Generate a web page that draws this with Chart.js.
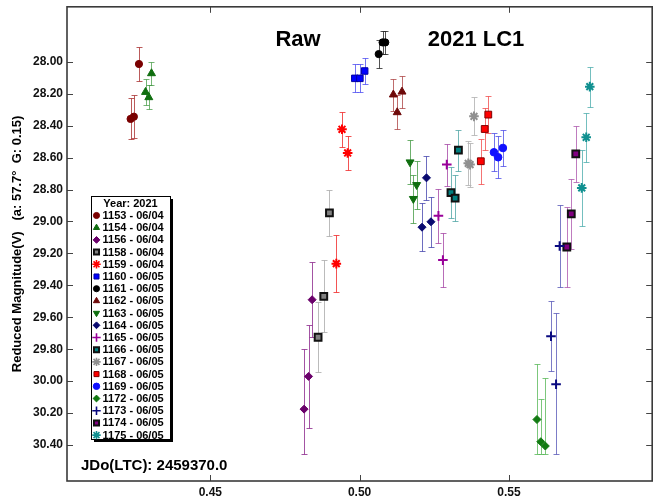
<!DOCTYPE html>
<html><head><meta charset="utf-8">
<script src="https://cdn.jsdelivr.net/npm/chart.js@4/dist/chart.umd.min.js"></script>
<style>html,body{margin:0;padding:0;background:#fff;}canvas{display:block;}</style>
</head><body>
<canvas id="c" width="659" height="497"></canvas>
<script>
// ---- data ----
const seriesLabels = ['1153 - 06/04','1154 - 06/04','1156 - 06/04','1158 - 06/04','1159 - 06/04',
  '1160 - 06/05','1161 - 06/05','1162 - 06/05','1163 - 06/05','1164 - 06/05','1165 - 06/05',
  '1166 - 06/05','1167 - 06/05','1168 - 06/05','1169 - 06/05','1172 - 06/05','1173 - 06/05',
  '1174 - 06/05','1175 - 06/05'];
const jdValues = [
  [0.4233,0.4244,0.4261],
  [0.4283,0.4294,0.4303],
  [0.4814,0.4829,0.4841],
  [0.4861,0.4880,0.4899],
  [0.4922,0.4941,0.4960],
  [0.4984,0.5001,0.5017],
  [0.5064,0.5077,0.5086],
  [0.5113,0.5126,0.5142],
  [0.5169,0.5180,0.5191],
  [0.5209,0.5224,0.5239],
  [0.5264,0.5279,0.5292],
  [0.5306,0.5320,0.5331],
  [0.5364,0.5370,0.5383],
  [0.5406,0.5419,0.5431],
  [0.5450,0.5464,0.5480],
  [0.5594,0.5607,0.5622],
  [0.5641,0.5658,0.5670],
  [0.5694,0.5709,0.5724],
  [0.5744,0.5759,0.5771]
];
const magValues = [
  [28.358,28.344,28.014],
  [28.190,28.223,28.073],
  [30.175,29.970,29.490],
  [29.725,29.469,28.946],
  [29.264,28.423,28.571],
  [28.104,28.104,28.058],
  [27.952,27.879,27.879],
  [28.206,28.317,28.188],
  [28.629,28.858,28.771],
  [29.036,28.727,29.002],
  [28.965,29.242,28.644],
  [28.819,28.854,28.554],
  [28.636,28.644,28.342],
  [28.623,28.421,28.331],
  [28.567,28.598,28.540],
  [30.240,30.379,30.406],
  [29.719,30.019,29.154],
  [29.160,28.952,28.577],
  [28.790,28.473,28.156]
];
const errValues = [
  [0.128,0.135,0.104],
  [0.083,0.076,0.073],
  [0.378,0.323,0.236],
  [0.219,0.225,0.143],
  [0.177,0.110,0.107],
  [0.088,0.088,0.083],
  [0.090,0.073,0.073],
  [0.100,0.106,0.100],
  [0.138,0.150,0.148],
  [0.151,0.136,0.155],
  [0.170,0.170,0.132],
  [0.158,0.145,0.128],
  [0.138,0.138,0.119],
  [0.140,0.133,0.118],
  [0.120,0.131,0.115],
  [0.350,0.265,0.427],
  [0.220,0.448,0.255],
  [0.252,0.219,0.174],
  [0.240,0.154,0.126]
];
const xTickValues = [0.45, 0.50, 0.55];
const yTickValues = [28.00,28.20,28.40,28.60,28.80,29.00,29.20,29.40,29.60,29.80,30.00,30.20,30.40];
const errClipMag = 30.456;
const legendTitle = 'Year: 2021';
const titleLeft = 'Raw';
const titleRight = '2021 LC1';
const jdNote = 'JDo(LTC): 2459370.0';
const yAxisTitle = 'Reduced Magnitude(V)   (a: 57.7\u00B0  G: 0.15)';

// ---- styles ----
const FONT = "'Liberation Sans', Arial, Helvetica, sans-serif";
const styles = [
  {shape:'circle',   fill:'#7a0000', stroke:'#7a0000', bw:1, r:3.6, err:'rgba(170,50,50,0.8)'},
  {shape:'triangle', fill:'#0f6e0f', stroke:'#0f6e0f', bw:1, r:4.6, err:'rgba(60,150,60,0.7)'},
  {shape:'rectRot',  fill:'#6a006a', stroke:'#6a006a', bw:1, r:4.0, err:'rgba(140,40,140,0.8)'},
  {shape:'rect',     fill:'#808080', stroke:'#111111', bw:2, r:4.8, err:'rgba(170,170,170,0.8)'},
  {shape:'star',     fill:'#ff0000', stroke:'#ff0000', bw:2, r:4.8, err:'rgba(240,40,40,0.8)'},
  {shape:'rect',     fill:'#0000ff', stroke:'#0000a0', bw:1, r:4.6, err:'rgba(70,70,240,0.75)'},
  {shape:'circle',   fill:'#000000', stroke:'#000000', bw:1, r:3.6, err:'rgba(40,40,40,0.8)'},
  {shape:'triangle', fill:'#6e0a0a', stroke:'#6e0a0a', bw:1, r:4.6, err:'rgba(170,60,60,0.75)'},
  {shape:'triangle', rot:180, fill:'#0f6e0f', stroke:'#0f6e0f', bw:1, r:4.6, err:'rgba(60,150,60,0.75)'},
  {shape:'rectRot',  fill:'#0a0a70', stroke:'#0a0a70', bw:1, r:4.0, err:'rgba(60,60,170,0.75)'},
  {shape:'cross',    fill:'#990099', stroke:'#990099', bw:2, r:4.8, err:'rgba(160,60,160,0.75)'},
  {shape:'rect',     fill:'#008080', stroke:'#111111', bw:2, r:4.8, err:'rgba(70,160,160,0.75)'},
  {shape:'star',     fill:'#909090', stroke:'#909090', bw:2, r:4.8, err:'rgba(180,180,180,0.85)'},
  {shape:'rect',     fill:'#ff0000', stroke:'#800000', bw:1, r:4.8, err:'rgba(240,70,70,0.75)'},
  {shape:'circle',   fill:'#1010ff', stroke:'#1010ff', bw:1, r:3.8, err:'rgba(70,70,230,0.75)'},
  {shape:'rectRot',  fill:'#127a12', stroke:'#127a12', bw:1, r:4.0, err:'rgba(80,180,80,0.75)'},
  {shape:'cross',    fill:'#0a0a80', stroke:'#0a0a80', bw:2, r:4.8, err:'rgba(80,80,180,0.75)'},
  {shape:'rect',     fill:'#800080', stroke:'#111111', bw:2, r:4.8, err:'rgba(170,80,170,0.75)'},
  {shape:'star',     fill:'#109090', stroke:'#109090', bw:2, r:4.8, err:'rgba(70,170,170,0.75)'}
];

const datasets = seriesLabels.map((lab, i) => ({
  label: lab,
  data: jdValues[i].map((x, k) => ({x: x, y: magValues[i][k], e: errValues[i][k]})),
  showLine: false,
  pointStyle: styles[i].shape,
  rotation: styles[i].rot || 0,
  pointRotation: styles[i].rot || 0,
  pointRadius: styles[i].r,
  pointHoverRadius: styles[i].r,
  backgroundColor: styles[i].fill,
  borderColor: styles[i].stroke,
  pointBorderWidth: styles[i].bw,
  borderWidth: styles[i].bw,
  errColor: styles[i].err
}));

const errorBars = {
  id: 'errorBars',
  beforeDatasetsDraw(chart) {
    const {ctx, chartArea: a, scales: {x, y}} = chart;
    ctx.save();
    ctx.beginPath(); ctx.rect(a.left, a.top, a.right - a.left, a.bottom - a.top); ctx.clip();
    chart.data.datasets.forEach(ds => {
      ctx.strokeStyle = ds.errColor; ctx.lineWidth = 1;
      ds.data.forEach(p => {
        const px = Math.round(x.getPixelForValue(p.x)) + 0.5;
        const y1 = Math.round(y.getPixelForValue(p.y - p.e)) + 0.5;
        const y2 = Math.round(y.getPixelForValue(Math.min(p.y + p.e, errClipMag))) + 0.5;
        ctx.beginPath();
        ctx.moveTo(px, y1); ctx.lineTo(px, y2);
        ctx.moveTo(px - 3, y1); ctx.lineTo(px + 3, y1);
        ctx.moveTo(px - 3, y2); ctx.lineTo(px + 3, y2);
        ctx.stroke();
      });
    });
    ctx.restore();
  }
};

const frameAndText = {
  id: 'frameAndText',
  afterDraw(chart) {
    const {ctx, chartArea: a, scales: {x, y}} = chart;
    ctx.save();
    // inward ticks
    ctx.strokeStyle = '#444'; ctx.lineWidth = 1;
    ctx.beginPath();
    xTickValues.forEach(v => {
      const px = Math.round(x.getPixelForValue(v)) + 0.5;
      ctx.moveTo(px, a.bottom); ctx.lineTo(px, a.bottom - 6);
      ctx.moveTo(px, a.top); ctx.lineTo(px, a.top + 6);
    });
    yTickValues.forEach(v => {
      const py = Math.round(y.getPixelForValue(v)) + 0.5;
      ctx.moveTo(a.left, py); ctx.lineTo(a.left + 6, py);
      ctx.moveTo(a.right, py); ctx.lineTo(a.right - 6, py);
    });
    ctx.stroke();
    // frame
    ctx.strokeStyle = '#3a3a3a'; ctx.lineWidth = 1.6;
    ctx.strokeRect(a.left, a.top, a.right - a.left, a.bottom - a.top);
    // titles
    ctx.fillStyle = '#000';
    ctx.textBaseline = 'middle'; ctx.textAlign = 'center';
    ctx.font = 'bold 22px ' + FONT;
    ctx.fillText(titleLeft, 298, 40);
    ctx.fillText(titleRight, 476, 40);
    ctx.textAlign = 'left';
    ctx.font = 'bold 15px ' + FONT;
    ctx.fillText(jdNote, 81, 466);

    // legend
    const bx = 91, by = 196, bw = 79, bh = 243;
    ctx.fillStyle = '#000';
    ctx.fillRect(bx + 3, by + 3, bw, bh);
    ctx.fillStyle = '#fff';
    ctx.fillRect(bx, by, bw, bh);
    ctx.strokeStyle = '#000'; ctx.lineWidth = 1;
    ctx.strokeRect(bx + 0.5, by + 0.5, bw, bh);
    ctx.fillStyle = '#000';
    ctx.font = 'bold 11px ' + FONT;
    ctx.textAlign = 'center';
    ctx.fillText(legendTitle, bx + bw / 2, by + 8);
    ctx.textAlign = 'left';
    chart.data.datasets.forEach((ds, i) => {
      const yy = by + 19.5 + i * 12.2;
      const isLine = ds.pointStyle === 'star' || ds.pointStyle === 'cross';
      ctx.fillStyle = ds.backgroundColor;
      ctx.strokeStyle = ds.borderColor;
      ctx.lineWidth = isLine ? 1.6 : Math.min(ds.borderWidth, 2);
      Chart.helpers.drawPoint(ctx, {pointStyle: ds.pointStyle, radius: isLine ? 4.2 : Math.min(ds.pointRadius, 4.2) * 0.85, rotation: ds.rotation, borderWidth: ctx.lineWidth}, 96.5, yy);
      ctx.fillStyle = '#000';
      ctx.fillText(ds.label, 102.5, yy + 0.5);
    });
    ctx.restore();
  }
};

new Chart(document.getElementById('c'), {
  type: 'scatter',
  data: {datasets: datasets},
  plugins: [errorBars, frameAndText],
  options: {
    responsive: false, animation: false, devicePixelRatio: 1,
    layout: {padding: {left: 0, right: 4, top: 6, bottom: 0}},
    plugins: {legend: {display: false}, tooltip: {enabled: false}},
    elements: {point: {hitRadius: 0}},
    scales: {
      x: {
        type: 'linear', min: 0.402, max: 0.598,
        afterBuildTicks: s => { s.ticks = xTickValues.map(v => ({value: v})); },
        afterFit: s => { s.height = 16; s.paddingLeft = 0; s.paddingRight = 0; },
        grid: {display: false, drawTicks: false}, border: {display: false},
        ticks: {padding: 4, color: '#111', font: {family: FONT, size: 12, weight: 'bold'}, callback: v => Number(v).toFixed(2)}
      },
      y: {
        type: 'linear', reverse: true, min: 27.656, max: 30.625,
        afterBuildTicks: s => { s.ticks = yTickValues.map(v => ({value: v})); },
        afterFit: s => { s.width = 67; s.paddingTop = 0; s.paddingBottom = 0; },
        grid: {display: false, drawTicks: false}, border: {display: false},
        title: {display: true, text: yAxisTitle, color: '#000', padding: {top: 10, bottom: 0}, font: {family: FONT, size: 13, weight: 'bold'}},
        ticks: {padding: 4, color: '#111', font: {family: FONT, size: 12, weight: 'bold'}, callback: v => Number(v).toFixed(2)}
      }
    }
  }
});
</script>
</body></html>
